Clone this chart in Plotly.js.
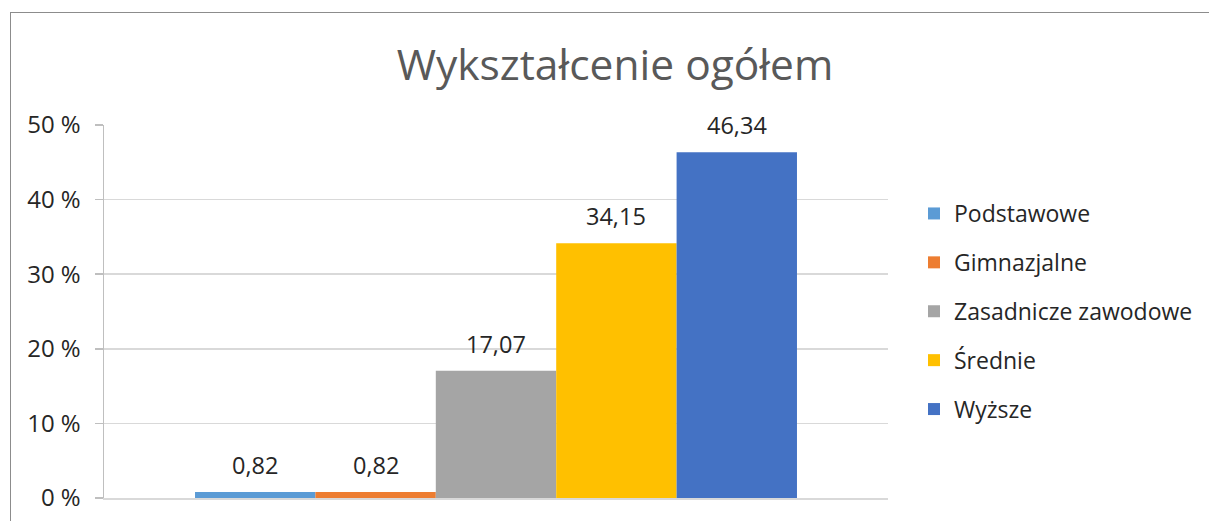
<!DOCTYPE html>
<html>
<head>
<meta charset="utf-8">
<script src="https://cdn.plot.ly/plotly-3.0.1.min.js"></script>
<style>
html,body{margin:0;padding:0;background:#fff;}
#wrap{position:relative;width:1209px;height:521px;overflow:hidden;}
#chart{position:absolute;left:0;top:0;width:1209px;height:521px;}
#frame{position:absolute;left:10px;top:12px;width:1400px;height:800px;border-left:1.5px solid #8c8c8c;border-top:1.5px solid #8c8c8c;pointer-events:none;}
</style>
</head>
<body>
<div id="wrap"><div id="chart"></div><div id="frame"></div></div>
<script>
const titleText = "Wykształcenie ogółem";
const categories = ["Podstawowe", "Gimnazjalne", "Zasadnicze zawodowe", "Średnie", "Wyższe"];
const values = [0.82, 0.82, 17.07, 34.15, 46.34];
const labels = ["0,82", "0,82", "17,07", "34,15", "46,34"];
const colors = ["#5B9BD5", "#ED7D31", "#A5A5A5", "#FFC000", "#4472C4"];
const yTicks = [0, 10, 20, 30, 40, 50];
const yTickLabels = ["0 %", "10 %", "20 %", "30 %", "40 %", "50 %"];

const FONT = "Open Sans, Noto Sans, sans-serif";

const traces = categories.map((name, i) => ({
  type: "bar",
  name: name,
  x: [i],
  y: [values[i]],
  width: 1,
  marker: {color: colors[i], line: {width: 0}},
  legendgroup: "g" + i,
  hoverinfo: "name+y"
}));

const annotations = categories.map((name, i) => ({
  x: i, y: values[i], xref: "x", yref: "y",
  text: labels[i], showarrow: false,
  yanchor: "bottom", yshift: 9,
  font: {family: FONT, size: 23.5, color: "#262626"}
}));

const layout = {
  width: 1209, height: 521,
  margin: {l: 104, r: 321, t: 125, b: 23, pad: 0},
  paper_bgcolor: "rgba(0,0,0,0)",
  plot_bgcolor: "rgba(0,0,0,0)",
  title: {
    text: titleText,
    x: 615/1209, xref: "container", xanchor: "center",
    y: 1 - 65/521, yref: "container", yanchor: "middle",
    font: {family: FONT, size: 42.5, color: "#595959"}
  },
  barmode: "overlay",
  showlegend: true,
  legend: {
    xref: "container", yref: "container",
    x: 914/1209, xanchor: "left", y: 1 - 311.5/521, yanchor: "middle",
    traceorder: "grouped", tracegroupgap: 16,
    font: {family: FONT, size: 23, color: "#262626"},
    bgcolor: "rgba(0,0,0,0)"
  },
  xaxis: {
    range: [-1.256, 5.256],
    showticklabels: false, ticks: "", showgrid: false, zeroline: false,
    showline: true, linecolor: "#d9d9d9", linewidth: 1.5, fixedrange: true
  },
  yaxis: {
    range: [0, 50],
    tickvals: yTicks, ticktext: yTickLabels,
    ticks: "outside", ticklen: 8, tickcolor: "#bfbfbf", tickwidth: 1.5,
    ticklabelstandoff: 9,
    showline: true, linecolor: "#bfbfbf", linewidth: 1.5,
    showgrid: true, gridcolor: "#d9d9d9", gridwidth: 1.5,
    zeroline: false, automargin: false,
    tickfont: {family: FONT, size: 24, color: "#262626"},
    fixedrange: true
  },
  annotations: annotations
};

Plotly.newPlot("chart", traces, layout, {displayModeBar: false, staticPlot: true});
</script>
</body>
</html>
